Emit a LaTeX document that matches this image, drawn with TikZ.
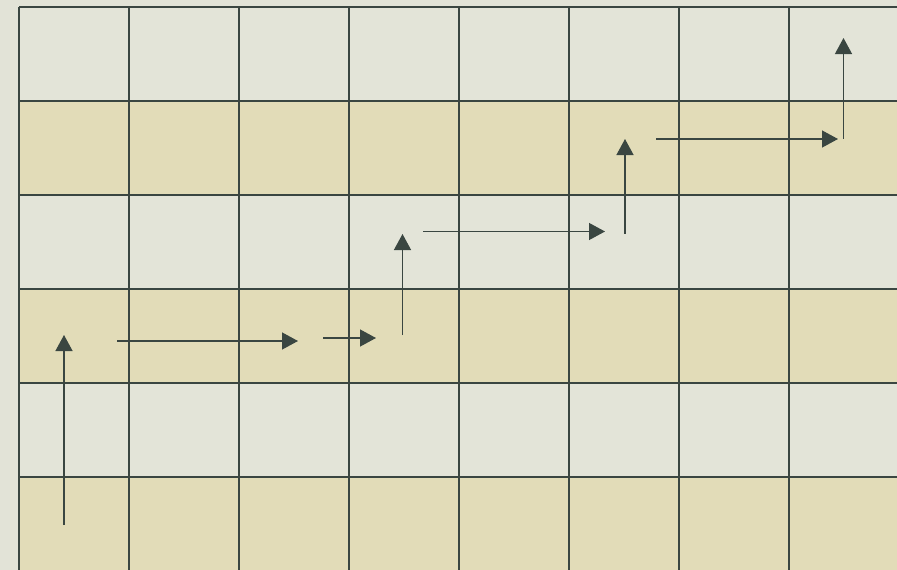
\documentclass[tikz,border=0pt]{standalone}
\usetikzlibrary{arrows.meta}
\definecolor{bgc}{HTML}{E2E3D7}
\definecolor{lightcell}{HTML}{E3E4D8}
\definecolor{beigecell}{HTML}{E2DCB8}
\definecolor{gridc}{HTML}{3A4641}
\tikzset{
  gridline/.style={draw=gridc, line width=2.8pt},
  pathArrow/.style={draw=gridc, line width=1.3pt, -{Triangle[length=16pt,width=17pt]}},
}
\begin{document}
\begin{tikzpicture}[x=1pt,y=-1pt]
\useasboundingbox (0,0) rectangle (897,570);
\clip (0,0) rectangle (897,570);
\fill[bgc] (0,0) rectangle (897,570);
% rows
\foreach \r in {0,...,5}{
  \pgfmathsetmacro{\ya}{7+94*\r}
  \pgfmathsetmacro{\yb}{7+94*(\r+1)}
  \ifodd\r
    \fill[beigecell] (19,\ya) rectangle (910,\yb);
  \else
    \fill[lightcell] (19,\ya) rectangle (910,\yb);
  \fi
}
% grid lines
\foreach \c in {0,...,8}{
  \draw[gridline] ({19+110*\c},7) -- ({19+110*\c},575);
}
\foreach \r in {0,...,6}{
  \draw[gridline] (19,{7+94*\r}) -- (910,{7+94*\r});
}
% arrow coordinates
\coordinate (a1s) at (64,525);  \coordinate (a1e) at (64,335);
\coordinate (a2s) at (117,341); \coordinate (a2e) at (298,341);
\coordinate (a3s) at (323,338); \coordinate (a3e) at (376,338);
\coordinate (a4s) at (402.5,335); \coordinate (a4e) at (402.5,234);
\coordinate (a5s) at (423,231.5); \coordinate (a5e) at (605,231.5);
\coordinate (a6s) at (625,233.5); \coordinate (a6e) at (625,139);
\coordinate (a7s) at (656,139); \coordinate (a7e) at (838,139);
\coordinate (a8s) at (843.5,138.5); \coordinate (a8e) at (843.5,38);
\foreach \i in {1,...,8}{
  \draw[pathArrow] (a\i s) -- (a\i e);
}
\end{tikzpicture}
\end{document}
